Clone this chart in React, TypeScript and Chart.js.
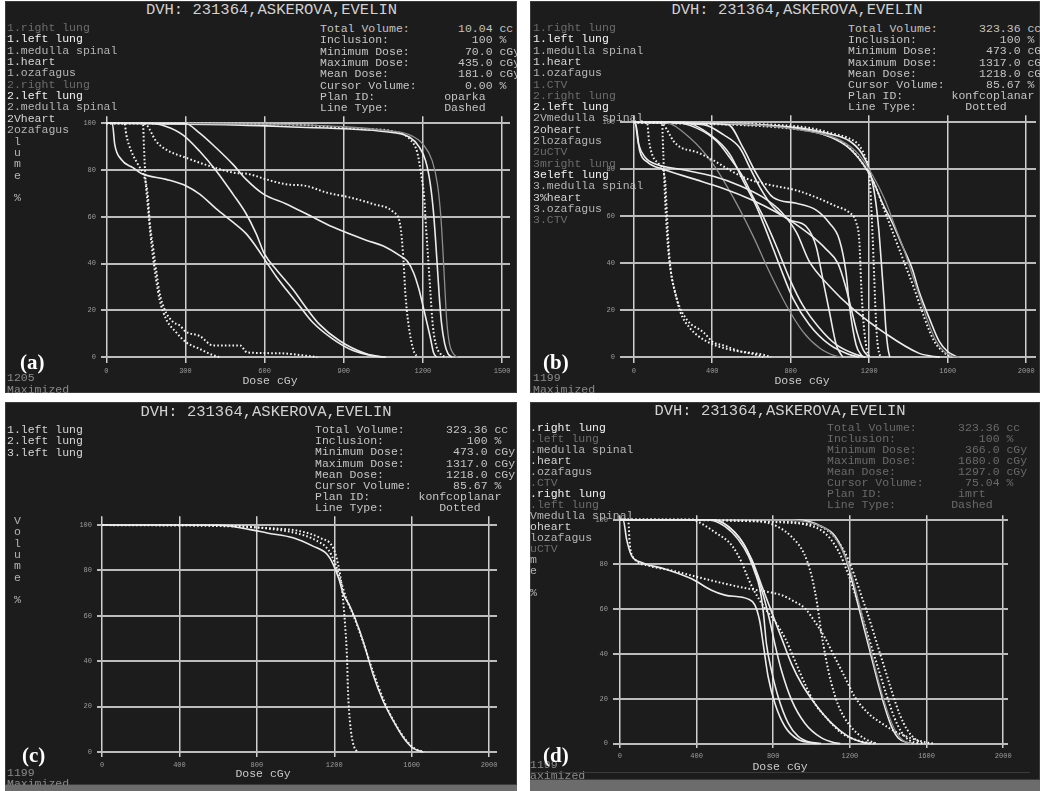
import React, { useEffect, useRef } from "react";
import { Chart, registerables } from "chart.js";

Chart.register(...registerables);

type Pt = [number, number];
type Kind = "solid" | "dotted" | "gray";

// ---------------- shared text / ticks ----------------
const TITLE = "DVH: 231364,ASKEROVA,EVELIN";
const STAT_LABELS = ["Total Volume:", "Inclusion:", "Minimum Dose:", "Maximum Dose:", "Mean Dose:", "Cursor Volume:", "Plan ID:", "Line Type:"];
const Y_TICKS = [0, 20, 40, 60, 80, 100];
const A_X_TICKS = [0, 300, 600, 900, 1200, 1500];
const BCD_X_TICKS = [0, 400, 800, 1200, 1600, 2000];
const X_TITLE = "Dose cGy";

// ---------------- panel (a) ----------------
const A_LIST = ["1.right lung", "1.left lung", "1.medulla spinal", "1.heart", "1.ozafagus", "2.right lung", "2.left lung", "2.medulla spinal", "2Vheart", "2ozafagus", " l", " u", " m", " e", "", " %"];
const A_LIST_TONES = [0, 2, 1, 3, 1, 0, 2, 1, 3, 1, 1, 1, 1, 1, 1, 1];
const A_STATS = ["10.04 cc", "100 %", "70.0 cGy", "435.0 cGy", "181.0 cGy", "0.00 %", "oparka", "Dashed"];
const A_FOOTER = ["1205", "Maximized"];

const A_LUNG_1: Pt[] = [[0, 100], [23, 100], [32, 91], [57, 84.5], [101, 81], [133, 78.5], [227, 76], [303, 73.2], [354, 69.7], [417, 63.4], [480, 57.7], [530, 52.8], [568, 47.2], [606, 40.8], [644, 34.5], [682, 28.9], [733, 21.8], [783, 14.8], [859, 7.7], [935, 2.8], [1010, 0.6], [1060, 0]];
const A_LUNG_2: Pt[] = [[0, 100], [164, 100], [227, 98.6], [290, 95], [354, 88], [417, 79.6], [480, 69.7], [530, 61.3], [568, 52.8], [600, 44], [644, 37.5], [707, 29], [758, 21], [808, 14], [884, 7], [985, 1.4], [1050, 0]];
const A_MEDULLA: Pt[] = [[0, 100], [297, 100], [354, 95.8], [417, 89.4], [480, 82.4], [530, 76], [596, 69.7], [682, 65.5], [758, 61.3], [859, 55.6], [985, 50], [1050, 47.5], [1111, 43.5], [1141, 41], [1165, 36], [1185, 29], [1202, 21], [1228, 8.4], [1240, 2], [1252, 0]];
const A_OZ_DOTTED: Pt[] = [[0, 100], [130, 100], [152, 99.3], [189, 92.3], [227, 88.7], [303, 85.2], [392, 81.7], [480, 78.9], [543, 78.2], [606, 76], [682, 73.9], [758, 73.2], [834, 70.4], [922, 68.3], [1010, 65.5], [1088, 62], [1114, 56.5], [1126, 42], [1133, 28], [1145, 14.3], [1164, 3], [1180, 0]];
const A_HEART_1: Pt[] = [[0, 100], [69, 100], [76, 95], [95, 88], [120, 82.4], [145, 76.8], [158, 68.3], [164, 58.5], [177, 47.2], [189, 37.3], [202, 27.5], [221, 20.4], [253, 15], [279, 13.5], [300, 11], [355, 9], [404, 5], [507, 5], [534, 2], [647, 1.7], [773, 0.4], [800, 0]];
const A_HEART_2: Pt[] = [[0, 100], [139, 100], [143, 89.4], [149, 75.4], [158, 64], [167, 52.8], [177, 43], [189, 33], [202, 24.6], [227, 16.2], [265, 10.6], [303, 6.3], [354, 3.5], [392, 1.4], [429, 0]];
const A_TOP_SOLID: Pt[] = [[0, 100], [480, 99.3], [735, 98.3], [925, 97.5], [1050, 96.5], [1150, 94], [1185, 90], [1210, 84], [1228, 74], [1240, 62], [1248, 50], [1255, 38], [1262, 26], [1270, 15], [1282, 6], [1295, 1.5], [1310, 0]];
const A_TOP_DOTTED: Pt[] = [[0, 100], [735, 99.3], [861, 98.3], [989, 97.5], [1088, 96.5], [1152, 93], [1179, 87.3], [1194, 77.6], [1205, 68], [1212, 55], [1220, 42], [1228, 28.3], [1238, 13], [1250, 5], [1266, 1.5], [1285, 0]];
const A_TOP_GRAY: Pt[] = [[0, 100], [600, 99.6], [900, 98.5], [1050, 97], [1150, 95], [1200, 91], [1235, 84], [1255, 74], [1268, 60], [1276, 45], [1283, 30], [1290, 16], [1300, 6], [1315, 1.5], [1330, 0]];

// ---------------- panel (b) ----------------
const B_LIST = ["1.right lung", "1.left lung", "1.medulla spinal", "1.heart", "1.ozafagus", "1.CTV", "2.right lung", "2.left lung", "2Vmedulla spinal", "2oheart", "2lozafagus", "2uCTV", "3mright lung", "3eleft lung", "3.medulla spinal", "3%heart", "3.ozafagus", "3.CTV"];
const B_LIST_TONES = [0, 2, 1, 3, 1, 0, 0, 2, 1, 3, 1, 0, 0, 2, 1, 3, 1, 0];
const B_STATS = ["323.36 cc", "100 %", "473.0 cGy", "1317.0 cGy", "1218.0 cGy", "85.67 %", "konfcoplanar", "Dotted"];
const B_FOOTER = ["1199", "Maximized"];

const B_LUNG_1: Pt[] = [[0, 100], [5, 100], [25, 90.5], [59, 85], [118, 82], [237, 80], [406, 77], [541, 73], [660, 68], [750, 62], [830, 53], [893, 41], [1000, 30], [1111, 21], [1284, 10], [1452, 1.7], [1518, 0.4], [1560, 0]];
const B_LUNG_2: Pt[] = [[0, 100], [8, 100], [30, 88], [70, 83], [150, 80], [300, 76], [450, 72], [600, 67], [720, 62], [800, 58], [900, 52], [980, 46], [1040, 40], [1080, 30], [1110, 20], [1140, 10], [1170, 3], [1200, 0]];
const B_HEART_1: Pt[] = [[0, 100], [68, 100], [78, 92], [95, 86], [130, 82], [160, 75], [169, 61], [178, 47], [190, 36], [211, 27.7], [237, 19.3], [287, 12.3], [372, 6.7], [490, 3.2], [660, 1], [700, 0]];
const B_HEART_2: Pt[] = [[0, 100], [144, 100], [150, 88], [156, 75], [161, 65], [170, 52], [180, 42], [194, 34], [220, 24.6], [270, 16], [355, 10.6], [406, 6.3], [457, 5], [541, 2.5], [625, 1], [660, 0]];
const B_OZ_DOTTED: Pt[] = [[0, 100], [130, 100], [152, 99], [203, 92], [237, 89.4], [321, 87.3], [406, 83.8], [490, 79.6], [575, 76], [660, 73.9], [744, 72.5], [829, 71], [930, 68], [1032, 64.2], [1099, 61.5], [1133, 57.5], [1150, 49], [1158, 33], [1167, 19], [1184, 5], [1200, 0]];
const B_MED_1: Pt[] = [[0, 100], [203, 100], [321, 97.5], [423, 91.9], [490, 84.9], [558, 76.5], [609, 68], [660, 59.8], [727, 47.2], [795, 33.2], [862, 22], [947, 12.3], [1032, 5.3], [1133, 1.1], [1180, 0]];
const B_MED_2: Pt[] = [[0, 100], [254, 100], [389, 94.7], [490, 86.3], [558, 75], [626, 64], [693, 50], [744, 38.8], [812, 24.9], [896, 13.7], [998, 5.3], [1099, 1.1], [1150, 0]];
const B_MED_3: Pt[] = [[0, 100], [152, 100], [287, 93.3], [406, 82], [507, 68], [609, 51.4], [693, 36], [778, 22], [862, 10.9], [947, 3.9], [1032, 0.4], [1060, 0]];
const B_OZ_1: Pt[] = [[0, 100], [355, 99], [457, 94.7], [541, 89], [592, 80.6], [643, 72.3], [710, 63.9], [795, 58.4], [879, 55.6], [930, 47], [964, 33], [998, 19], [1032, 5.3], [1065, 0]];
const B_OZ_2: Pt[] = [[0, 100], [480, 99], [558, 89], [626, 78], [710, 68], [829, 65.5], [930, 62.6], [998, 57], [1048, 50], [1082, 36], [1099, 22], [1133, 5.3], [1167, 0]];
const B_CTV_1: Pt[] = [[0, 100], [490, 99.5], [795, 97.7], [964, 94.9], [1082, 90], [1167, 82.4], [1218, 75.4], [1268, 65.5], [1319, 57], [1370, 47.2], [1420, 37.4], [1454, 27.9], [1505, 16.8], [1556, 6.8], [1598, 2.5], [1650, 0]];
const B_CTV_2: Pt[] = [[0, 100], [700, 99], [900, 97.5], [1000, 95.5], [1100, 93], [1150, 90], [1180, 85], [1200, 78], [1210, 65], [1218, 50], [1225, 35], [1232, 20], [1240, 8], [1250, 2], [1262, 0]];
const B_CTV_3: Pt[] = [[0, 100], [800, 98], [1000, 95], [1100, 92], [1160, 87], [1200, 80], [1230, 68], [1248, 55], [1262, 40], [1275, 25], [1285, 12], [1295, 4], [1305, 0]];
const B_CTV_4: Pt[] = [[0, 100], [600, 99], [900, 96], [1050, 92.5], [1150, 86], [1220, 77], [1280, 67], [1330, 56], [1380, 45], [1420, 35], [1460, 25], [1500, 15], [1540, 7], [1580, 2.5], [1620, 0.5], [1660, 0]];
const B_CTV_5: Pt[] = [[0, 100], [850, 96.8], [1000, 94], [1100, 89], [1170, 82], [1230, 73], [1280, 62], [1330, 51], [1380, 40], [1430, 29], [1480, 17], [1530, 7], [1580, 2], [1620, 0]];

// ---------------- panel (c) ----------------
const C_LIST = ["1.left lung", "2.left lung", "3.left lung", "", "", "", "", "", " V", " o", " l", " u", " m", " e", "", " %"];
const C_LIST_TONES = [3, 3, 3, 1, 1, 1, 1, 1, 1, 1, 1, 1, 1, 1, 1, 1];
const C_STATS = ["323.36 cc", "100 %", "473.0 cGy", "1317.0 cGy", "1218.0 cGy", "85.67 %", "konfcoplanar", "Dotted"];
const C_FOOTER = ["1199", "Maximized"];

const C_LUNG_1: Pt[] = [[0, 100], [300, 100], [610, 99.9], [765, 98], [853, 96.5], [987, 94.4], [1090, 90.7], [1163, 87.1], [1194, 82.8], [1225, 76], [1245, 70], [1282, 64], [1333, 53], [1370, 43], [1400, 34.3], [1452, 22.6], [1504, 13.9], [1556, 6.5], [1607, 1.7], [1659, 0]];
const C_LUNG_2: Pt[] = [[0, 100], [677, 99.4], [853, 98.7], [1023, 97.3], [1127, 94.3], [1194, 90], [1220, 82.7], [1240, 72], [1256, 56], [1266, 41.3], [1271, 27], [1282, 12.6], [1297, 3.9], [1318, 0]];
const C_LUNG_3: Pt[] = [[0, 100], [500, 100], [700, 99.5], [900, 98], [1000, 96.5], [1100, 93.5], [1170, 89], [1205, 83], [1235, 75], [1265, 67], [1300, 60], [1345, 49.5], [1400, 35.5], [1455, 23], [1505, 14], [1560, 6.5], [1610, 1.8], [1665, 0]];

// ---------------- panel (d) ----------------
const D_LIST = [".right lung", ".left lung", ".medulla spinal", ".heart", ".ozafagus", ".CTV", ".right lung", ".left lung", "Vmedulla spinal", "oheart", "lozafagus", "uCTV", "m", "e", "", "%"];
const D_LIST_TONES = [2, 0, 1, 3, 1, 0, 2, 0, 1, 3, 1, 0, 1, 1, 1, 1];
const D_STATS = ["323.36 cc", "100 %", "366.0 cGy", "1680.0 cGy", "1297.0 cGy", "75.04 %", "imrt", "Dashed"];
const D_FOOTER = ["1199", "aximized"];

const D_LUNG_1: Pt[] = [[0, 100], [17, 100], [35, 91.2], [61, 83.9], [113, 80.9], [235, 78], [374, 73.6], [478, 68.5], [548, 66.3], [670, 64.5], [704, 61.9], [730, 54.5], [748, 44.3], [774, 29.6], [809, 17.9], [861, 7.6], [930, 1.8], [1017, 0.3], [1050, 0]];
const D_LUNG_2: Pt[] = [[0, 100], [43, 100], [52, 88.6], [78, 82.4], [148, 79.5], [270, 77.3], [409, 74.3], [548, 71.4], [670, 69.2], [774, 67.7], [843, 66.3], [913, 63.3], [965, 60.4], [1017, 54.5], [1070, 47.2], [1122, 38.4], [1174, 29.6], [1226, 20.8], [1296, 13.5], [1365, 9.1], [1452, 4.7], [1539, 1.8], [1609, 0.3], [1640, 0]];
const D_MED_1: Pt[] = [[0, 100], [461, 100], [548, 97], [617, 91.2], [670, 83.9], [704, 76.5], [730, 69.2], [748, 58.9], [765, 44.3], [791, 32.6], [826, 20.8], [878, 9.1], [930, 3.2], [1000, 0.3], [1030, 0]];
const D_MED_2: Pt[] = [[0, 100], [478, 100], [600, 94.4], [687, 82.4], [739, 70.7], [791, 58.9], [843, 47.2], [896, 35.5], [948, 26.7], [1017, 17.9], [1104, 9.1], [1191, 3.2], [1278, 0.3], [1310, 0]];
const D_HEART_1: Pt[] = [[0, 100], [496, 100], [583, 95.6], [652, 88.3], [704, 78], [748, 66.3], [783, 54.5], [809, 44.3], [843, 32.6], [896, 19.4], [965, 9.1], [1052, 2.5], [1122, 0.3], [1150, 0]];
const D_HEART_2: Pt[] = [[0, 100], [380, 100], [409, 99], [496, 94.4], [583, 88.6], [635, 81], [670, 73.6], [704, 67.7], [757, 60.4], [809, 54.5], [861, 47.2], [913, 37], [965, 26.7], [1017, 17.9], [1087, 10.6], [1156, 4.7], [1226, 1.8], [1296, 0.3], [1330, 0]];
const D_OZ_DOTTED: Pt[] = [[0, 100], [700, 99.5], [820, 97], [900, 92], [960, 85], [1000, 75], [1030, 62], [1050, 50], [1075, 38], [1100, 28], [1140, 17], [1200, 8], [1280, 2], [1340, 0]];
const D_CTV_1: Pt[] = [[0, 100], [496, 100], [948, 99.7], [1052, 97], [1122, 92.7], [1174, 83.9], [1209, 73.6], [1243, 61.9], [1278, 50.1], [1313, 38.4], [1348, 26.7], [1382, 16.4], [1417, 7.6], [1452, 2.5], [1504, 0.3], [1530, 0]];
const D_CTV_2: Pt[] = [[0, 100], [900, 99.8], [1000, 98.5], [1090, 95], [1150, 88], [1200, 78], [1235, 67], [1270, 55], [1305, 43], [1340, 31], [1375, 20], [1410, 11], [1445, 4.5], [1480, 1.2], [1520, 0]];
const D_CTV_3: Pt[] = [[0, 100], [800, 99.5], [960, 98], [1070, 94], [1140, 86], [1190, 76], [1230, 66], [1270, 55], [1310, 44], [1350, 33], [1390, 22], [1430, 12], [1470, 5], [1510, 1.5], [1560, 0]];
const D_CTV_4: Pt[] = [[0, 100], [1000, 98], [1100, 94], [1170, 86], [1220, 76], [1260, 66], [1300, 56], [1340, 45], [1380, 34], [1420, 23], [1460, 13], [1500, 6], [1540, 2], [1580, 0]];

// ---------------- layout ----------------
const TONES = ["#6c6c6c", "#b4b4b4", "#f2f2f2", "#d4d4d4"];
const MONO = "'Liberation Mono', 'DejaVu Sans Mono', monospace";

interface PanelDef {
  tag: string;
  box: { left: number; top: number; w: number; h: number };
  plot: { x0: number; xEnd: number; xEndVal: number; y100: number; y0: number; xMin: number; xMax: number; yMin: number; yMax: number };
  xTicks: number[];
  series: { data: Pt[]; kind: Kind }[];
  list: string[];
  tones: number[];
  listX: number; listY: number; listStep: number;
  stats: string[];
  statX: number; statY: number; statStep: number; statColor: string; planCol: number; typeCol: number;
  titleX: number; titleY: number;
  footer: string[]; footerX: number; footerY: number[];
  doseX: number; doseY: number;
  tagX: number; tagTop: number;
}

const PANELS: PanelDef[] = [
  {
    tag: "(a)",
    box: { left: 5, top: 1, w: 512, h: 392 },
    plot: { x0: 106.5, xEnd: 502, xEndVal: 1500, y100: 120.3, y0: 357, xMin: -20, xMax: 1530, yMin: -2.5, yMax: 103 },
    xTicks: A_X_TICKS,
    series: [
      { data: A_LUNG_1, kind: "solid" }, { data: A_LUNG_2, kind: "solid" }, { data: A_MEDULLA, kind: "solid" },
      { data: A_OZ_DOTTED, kind: "dotted" }, { data: A_HEART_1, kind: "dotted" }, { data: A_HEART_2, kind: "dotted" },
      { data: A_TOP_GRAY, kind: "gray" }, { data: A_TOP_SOLID, kind: "solid" }, { data: A_TOP_DOTTED, kind: "dotted" },
    ],
    list: A_LIST, tones: A_LIST_TONES, listX: 7, listY: 28, listStep: 11.35,
    stats: A_STATS, statX: 320, statY: 29, statStep: 11.3, statColor: "#c4c4c4", planCol: 18, typeCol: 18,
    titleX: 271.5, titleY: 10,
    footer: A_FOOTER, footerX: 7, footerY: [378, 389.5],
    doseX: 270, doseY: 381,
    tagX: 20, tagTop: 352,
  },
  {
    tag: "(b)",
    box: { left: 530, top: 1, w: 510, h: 392 },
    plot: { x0: 634, xEnd: 1026.5, xEndVal: 2000, y100: 119.3, y0: 357, xMin: -70, xMax: 2050, yMin: -2.5, yMax: 103 },
    xTicks: BCD_X_TICKS,
    series: [
      { data: B_LUNG_1, kind: "solid" }, { data: B_LUNG_2, kind: "solid" },
      { data: B_HEART_1, kind: "dotted" }, { data: B_HEART_2, kind: "dotted" }, { data: B_OZ_DOTTED, kind: "dotted" },
      { data: B_MED_1, kind: "solid" }, { data: B_MED_2, kind: "solid" }, { data: B_MED_3, kind: "gray" },
      { data: B_OZ_1, kind: "solid" }, { data: B_OZ_2, kind: "solid" },
      { data: B_CTV_4, kind: "gray" }, { data: B_CTV_1, kind: "solid" }, { data: B_CTV_2, kind: "dotted" },
      { data: B_CTV_3, kind: "solid" }, { data: B_CTV_5, kind: "dotted" },
    ],
    list: B_LIST, tones: B_LIST_TONES, listX: 533, listY: 28, listStep: 11.3,
    stats: B_STATS, statX: 848, statY: 29, statStep: 11.2, statColor: "#c4c4c4", planCol: 15, typeCol: 17,
    titleX: 797, titleY: 10,
    footer: B_FOOTER, footerX: 533, footerY: [378, 389.5],
    doseX: 802, doseY: 381,
    tagX: 543, tagTop: 352,
  },
  {
    tag: "(c)",
    box: { left: 5, top: 402, w: 512, h: 383 },
    plot: { x0: 102, xEnd: 489, xEndVal: 2000, y100: 522, y0: 752, xMin: -26, xMax: 2041, yMin: -2.2, yMax: 103.9 },
    xTicks: BCD_X_TICKS,
    series: [
      { data: C_LUNG_1, kind: "solid" }, { data: C_LUNG_3, kind: "dotted" }, { data: C_LUNG_2, kind: "dotted" },
    ],
    list: C_LIST, tones: C_LIST_TONES, listX: 7, listY: 430, listStep: 11.35,
    stats: C_STATS, statX: 315, statY: 430, statStep: 11.2, statColor: "#c4c4c4", planCol: 15, typeCol: 18,
    titleX: 266, titleY: 412,
    footer: C_FOOTER, footerX: 7, footerY: [773, 783.5],
    doseX: 263, doseY: 774,
    tagX: 22, tagTop: 745,
  },
  {
    tag: "(d)",
    box: { left: 530, top: 402, w: 510, h: 378 },
    plot: { x0: 620, xEnd: 1003.3, xEndVal: 2000, y100: 516.7, y0: 744, xMin: -36, xMax: 2025, yMin: -2, yMax: 102 },
    xTicks: BCD_X_TICKS,
    series: [
      { data: D_LUNG_1, kind: "solid" }, { data: D_LUNG_2, kind: "dotted" },
      { data: D_MED_1, kind: "solid" }, { data: D_MED_2, kind: "solid" }, { data: D_HEART_1, kind: "solid" },
      { data: D_HEART_2, kind: "dotted" }, { data: D_OZ_DOTTED, kind: "dotted" },
      { data: D_CTV_2, kind: "gray" }, { data: D_CTV_1, kind: "solid" }, { data: D_CTV_3, kind: "dotted" }, { data: D_CTV_4, kind: "dotted" },
    ],
    list: D_LIST, tones: D_LIST_TONES, listX: 530, listY: 428, listStep: 11,
    stats: D_STATS, statX: 827, statY: 428, statStep: 11, statColor: "#6a6a6a", planCol: 19, typeCol: 18,
    titleX: 780, titleY: 411,
    footer: D_FOOTER, footerX: 530, footerY: [765, 775.5],
    doseX: 780, doseY: 767,
    tagX: 543, tagTop: 745,
  },
];

function statLine(label: string, value: string, col: number): string {
  const sp = value.indexOf(" ");
  if (sp > 0) {
    const num = value.slice(0, sp);
    const unit = value.slice(sp + 1);
    return label.padEnd(25 - num.length) + num + " " + unit;
  }
  return label.padEnd(col) + value;
}

function dataset(data: Pt[], kind: Kind) {
  const base: any = {
    data: data.map(([x, y]) => ({ x, y })),
    pointRadius: 0,
    fill: false,
    cubicInterpolationMode: "monotone",
    borderJoinStyle: "round",
  };
  if (kind === "solid") return { ...base, borderColor: "#ececec", borderWidth: 1.6 };
  if (kind === "dotted") return { ...base, borderColor: "#f4f4f4", borderWidth: 2, borderDash: [1.6, 2.2] };
  return { ...base, borderColor: "#8e8e8e", borderWidth: 1.3 };
}

const AXW = 34, PADT = 6, PADR = 14, AXH = 18;

function DvhChart({ def }: { def: PanelDef }) {
  const ref = useRef<HTMLCanvasElement>(null);
  const p = def.plot;
  const k = (p.xEnd - p.x0) / p.xEndVal;
  const ky = (p.y0 - p.y100) / 100;
  const L = p.x0 + p.xMin * k;
  const R = p.x0 + p.xMax * k;
  const T = p.y0 - p.yMax * ky;
  const B = p.y0 - p.yMin * ky;
  const left = Math.round(L - AXW - def.box.left);
  const top = Math.round(T - PADT - def.box.top);
  const width = Math.round(R - L + AXW + PADR);
  const height = Math.round(B - T + PADT + AXH);

  useEffect(() => {
    const tickFont = { family: MONO, size: 7 };
    const chart = new Chart(ref.current as HTMLCanvasElement, {
      type: "line",
      data: { datasets: def.series.map((s) => dataset(s.data, s.kind)) },
      options: {
        responsive: false,
        animation: false,
        events: [],
        layout: { padding: { left: 0, top: PADT, right: PADR, bottom: 0 } },
        plugins: { legend: { display: false }, tooltip: { enabled: false } },
        scales: {
          x: {
            type: "linear",
            min: p.xMin,
            max: p.xMax,
            afterBuildTicks: (s: any) => { s.ticks = def.xTicks.map((v) => ({ value: v })); },
            afterFit: (s: any) => { s.height = AXH; },
            grid: { color: "#d0d0d0", lineWidth: 1.5, drawTicks: false },
            border: { display: false },
            ticks: { color: "#9c9c9c", font: tickFont, padding: 4, maxRotation: 0, autoSkip: false, callback: (v: any) => String(v) },
          },
          y: {
            type: "linear",
            min: p.yMin,
            max: p.yMax,
            afterBuildTicks: (s: any) => { s.ticks = Y_TICKS.map((v) => ({ value: v })); },
            afterFit: (s: any) => { s.width = AXW; },
            grid: { color: "#bcbcbc", lineWidth: 2, drawTicks: false },
            border: { display: false },
            ticks: { color: "#9c9c9c", font: tickFont, padding: 5, autoSkip: false, callback: (v: any) => String(v) },
          },
        },
      } as any,
    });
    return () => chart.destroy();
  }, []);

  return <canvas ref={ref} width={width} height={height} style={{ position: "absolute", left, top, width, height }} />;
}

function Txt(props: { x: number; cy: number; color: string; size?: number; center?: boolean; children: React.ReactNode }) {
  const { x, cy, color, size = 11.5, center = false, children } = props;
  return (
    <div
      style={{
        position: "absolute",
        left: center ? x - 200 : x,
        width: center ? 400 : undefined,
        textAlign: center ? "center" : undefined,
        top: cy - 6,
        height: 12,
        lineHeight: "12px",
        fontSize: size,
        color,
        whiteSpace: "pre",
      }}
    >
      {children}
    </div>
  );
}

function Panel({ def }: { def: PanelDef }) {
  const b = def.box;
  const ox = b.left, oy = b.top;
  return (
    <div
      style={{
        position: "absolute",
        left: b.left,
        top: b.top,
        width: b.w,
        height: b.h,
        background: "#1c1c1c",
        overflow: "hidden",
        fontFamily: MONO,
        boxShadow: "inset 0 0 0 1px #3c3c3c",
      }}
    >
      <DvhChart def={def} />
      <div
        style={{
          position: "absolute",
          left: def.titleX - ox - 200,
          width: 400,
          textAlign: "center",
          top: def.titleY - oy - 8,
          lineHeight: "16px",
          fontSize: 15.5,
          color: "#d2d2d2",
          whiteSpace: "pre",
        }}
      >
        {TITLE}
      </div>
      {def.list.map((s, i) => (
        <Txt key={"l" + i} x={def.listX - ox} cy={def.listY - oy + i * def.listStep} color={TONES[def.tones[i]]}>
          {s}
        </Txt>
      ))}
      {STAT_LABELS.map((lab, i) => (
        <Txt key={"s" + i} x={def.statX - ox} cy={def.statY - oy + i * def.statStep} color={def.statColor}>
          {statLine(lab, def.stats[i], i === 6 ? def.planCol : def.typeCol)}
        </Txt>
      ))}
      <Txt x={def.doseX - ox} cy={def.doseY - oy} color="#c8c8c8" center>
        {X_TITLE}
      </Txt>
      {def.footer.map((s, i) => (
        <Txt key={"f" + i} x={def.footerX - ox} cy={def.footerY[i] - oy} color="#8a8a8a">
          {s}
        </Txt>
      ))}
      <div
        style={{
          position: "absolute",
          left: def.tagX - ox,
          top: def.tagTop - oy,
          fontFamily: "'Liberation Serif', 'Times New Roman', serif",
          fontWeight: "bold",
          fontSize: 21,
          lineHeight: "21px",
          color: "#ffffff",
        }}
      >
        {def.tag}
      </div>
    </div>
  );
}

export default function App() {
  return (
    <div style={{ position: "fixed", left: 0, top: 0, width: 1040, height: 791, background: "#ffffff", overflow: "hidden" }}>
      {PANELS.map((d) => (
        <Panel key={d.tag} def={d} />
      ))}
      <div style={{ position: "absolute", left: 5, top: 785, width: 512, height: 6, background: "#6c6c6c" }} />
      <div style={{ position: "absolute", left: 530, top: 780, width: 510, height: 11, background: "#6c6c6c" }} />
      <div style={{ position: "absolute", left: 530, top: 772, width: 500, height: 1, background: "#3a3a3a" }} />
    </div>
  );
}
